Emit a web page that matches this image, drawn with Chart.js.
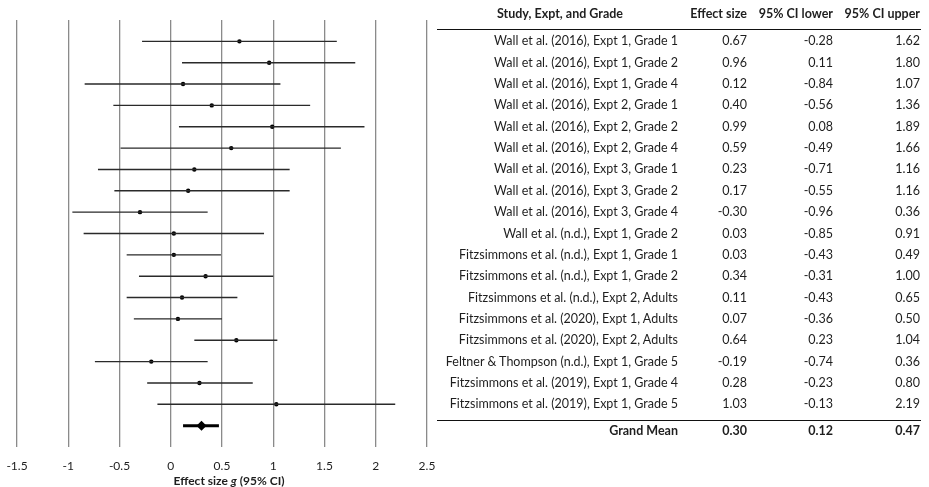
<!DOCTYPE html>
<html>
<head>
<meta charset="utf-8">
<script src="https://cdn.jsdelivr.net/npm/chart.js@4"></script>
<style>
  body { margin: 0; background: #fff; }
  #wrap { position: relative; width: 929px; height: 487px; overflow: hidden; font-family: Lato, "Open Sans", sans-serif; color: #1e1e1e; }
  #chart { position: absolute; left: 0; top: 0; }
  .cell { position: absolute; font-size: 12.5px; white-space: nowrap; line-height: 14px; transform: translateY(-50%); }
  .center { transform: translate(-50%, -50%); }
  .bold { font-weight: bold; }
  .rule { position: absolute; height: 0; border-top: 1.3px solid #111; }
</style>
</head>
<body>
<div id="wrap">
  <canvas id="chart" width="929" height="487"></canvas>
</div>
<script>
// ===== データ =====
const studies = [
  "Wall et al. (2016), Expt 1, Grade 1",
  "Wall et al. (2016), Expt 1, Grade 2",
  "Wall et al. (2016), Expt 1, Grade 4",
  "Wall et al. (2016), Expt 2, Grade 1",
  "Wall et al. (2016), Expt 2, Grade 2",
  "Wall et al. (2016), Expt 2, Grade 4",
  "Wall et al. (2016), Expt 3, Grade 1",
  "Wall et al. (2016), Expt 3, Grade 2",
  "Wall et al. (2016), Expt 3, Grade 4",
  "Wall et al. (n.d.), Expt 1, Grade 2",
  "Fitzsimmons et al. (n.d.), Expt 1, Grade 1",
  "Fitzsimmons et al. (n.d.), Expt 1, Grade 2",
  "Fitzsimmons et al. (n.d.), Expt 2, Adults",
  "Fitzsimmons et al. (2020), Expt 1, Adults",
  "Fitzsimmons et al. (2020), Expt 2, Adults",
  "Feltner & Thompson (n.d.), Expt 1, Grade 5",
  "Fitzsimmons et al. (2019), Expt 1, Grade 4",
  "Fitzsimmons et al. (2019), Expt 1, Grade 5"
];
const effectSizes = [0.67, 0.96, 0.12, 0.40, 0.99, 0.59, 0.23, 0.17, -0.30, 0.03, 0.03, 0.34, 0.11, 0.07, 0.64, -0.19, 0.28, 1.03];
const ciLower = [-0.28, 0.11, -0.84, -0.56, 0.08, -0.49, -0.71, -0.55, -0.96, -0.85, -0.43, -0.31, -0.43, -0.36, 0.23, -0.74, -0.23, -0.13];
const ciUpper = [1.62, 1.80, 1.07, 1.36, 1.89, 1.66, 1.16, 1.16, 0.36, 0.91, 0.49, 1.00, 0.65, 0.50, 1.04, 0.36, 0.80, 2.19];

const grandLabel = "Grand Mean";
const grandMean = [0.30];
const grandLower = [0.12];
const grandUpper = [0.47];

const xTicks = [-1.5, -1, -0.5, 0, 0.5, 1, 1.5, 2, 2.5];
const headers = ["Study, Expt, and Grade", "Effect size", "95% CI lower", "95% CI upper"];

const fmt = v => v.toFixed(2);
const grandRow = studies.length + 1;

// CI の線（null で区切る）
const ciSegments = [];
studies.forEach((s, i) => {
  ciSegments.push({ x: ciLower[i], y: i + 1 });
  ciSegments.push({ x: ciUpper[i], y: i + 1 });
  ciSegments.push({ x: null, y: null });
});

// ===== 軸タイトル（g だけ斜体） =====
const axisTitle = {
  id: "axisTitle",
  afterDraw(chart) {
    const { ctx, chartArea } = chart;
    const parts = [
      ["Effect size ", "bold 12px Lato"],
      ["g", "italic bold 12px Lato"],
      [" (95% CI)", "bold 12px Lato"]
    ];
    let total = 0;
    parts.forEach(p => { ctx.font = p[1]; total += ctx.measureText(p[0]).width; });
    let x = (chartArea.left + chartArea.right) / 2 + 7 - total / 2;
    ctx.save();
    ctx.fillStyle = "#1e1e1e";
    ctx.textBaseline = "middle";
    parts.forEach(p => {
      ctx.font = p[1];
      ctx.fillText(p[0], x, 481.5);
      x += ctx.measureText(p[0]).width;
    });
    ctx.restore();
  }
};

const chart = new Chart(document.getElementById("chart"), {
  type: "scatter",
  data: {
    datasets: [
      {
        data: ciSegments,
        showLine: true,
        spanGaps: false,
        borderColor: "#2a2a2a",
        borderWidth: 1.4,
        pointRadius: 0
      },
      {
        data: effectSizes.map((v, i) => ({ x: v, y: i + 1 })),
        pointRadius: 2.2,
        pointBackgroundColor: "#000",
        pointBorderWidth: 0
      },
      {
        data: [{ x: grandLower[0], y: grandRow }, { x: grandUpper[0], y: grandRow }],
        showLine: true,
        borderColor: "#000",
        borderWidth: 3,
        pointRadius: 0
      },
      {
        data: [{ x: grandMean[0], y: grandRow }],
        pointStyle: "rectRot",
        pointRadius: 5,
        pointBackgroundColor: "#000",
        pointBorderWidth: 0
      }
    ]
  },
  options: {
    responsive: false,
    animation: false,
    layout: {
      padding: { left: 17, right: 502, top: 20, bottom: 0 }
    },
    scales: {
      x: {
        type: "linear",
        min: -1.5,
        max: 2.5,
        afterBuildTicks: axis => { axis.ticks = xTicks.map(v => ({ value: v })); },
        afterFit: axis => {
          axis.height = 40;
          axis.paddingLeft = 0;
          axis.paddingRight = 0;
        },
        grid: { color: "#8a8a8a", lineWidth: 1.3, drawTicks: false },
        border: { display: false },
        ticks: {
          padding: 12,
          color: "#1e1e1e",
          font: { family: "Lato", size: 12 },
          callback: v => String(v)
        }
      },
      y: {
        type: "linear",
        min: 0,
        max: 20,
        reverse: true,
        display: false
      }
    },
    plugins: {
      legend: { display: false },
      tooltip: { enabled: false }
    }
  },
  plugins: [axisTitle]
});

// ===== 右側の表 =====
const wrap = document.getElementById("wrap");
const yScale = chart.scales.y;
const colRight = [678, 747, 833, 920];

function addCell(text, right, y, bold) {
  const d = document.createElement("div");
  d.className = "cell" + (bold ? " bold" : "");
  d.textContent = text;
  d.style.right = (929 - right) + "px";
  d.style.top = y + "px";
  wrap.appendChild(d);
}

function addRule(y) {
  const r = document.createElement("div");
  r.className = "rule";
  r.style.left = "437px";
  r.style.width = "484px";
  r.style.top = y + "px";
  wrap.appendChild(r);
}

// ヘッダー
const headY = yScale.getPixelForValue(-0.3);
const h0 = document.createElement("div");
h0.className = "cell center bold";
h0.textContent = headers[0];
h0.style.left = "560px";
h0.style.top = headY + "px";
wrap.appendChild(h0);
headers.slice(1).forEach((h, k) => addCell(h, colRight[k + 1], headY, true));
addRule(yScale.getPixelForValue(0.42));

// 各行
studies.forEach((s, i) => {
  const y = yScale.getPixelForValue(i + 1);
  addCell(s, colRight[0], y, false);
  addCell(fmt(effectSizes[i]), colRight[1], y, false);
  addCell(fmt(ciLower[i]), colRight[2], y, false);
  addCell(fmt(ciUpper[i]), colRight[3], y, false);
});

// Grand Mean
addRule(yScale.getPixelForValue(grandRow - 0.25));
const gy = yScale.getPixelForValue(grandRow + 0.25);
addCell(grandLabel, colRight[0], gy, true);
addCell(fmt(grandMean[0]), colRight[1], gy, true);
addCell(fmt(grandLower[0]), colRight[2], gy, true);
addCell(fmt(grandUpper[0]), colRight[3], gy, true);
</script>
</body>
</html>
